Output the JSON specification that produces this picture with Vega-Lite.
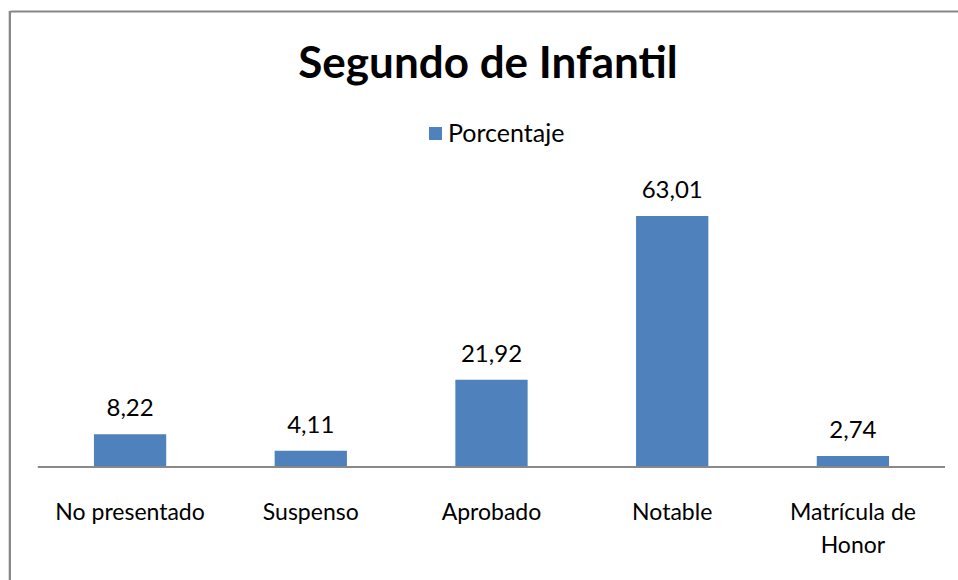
{
  "$schema": "https://vega.github.io/schema/vega-lite/v6.json",
  "width": 948,
  "height": 456,
  "autosize": {"type": "none"},
  "padding": {"left": 10, "top": 11, "right": 0, "bottom": 113},
  "background": "white",
  "config": {
    "view": {"stroke": null},
    "font": "Lato",
    "locale": {"number": {"decimal": ",", "thousands": ".", "grouping": [3], "currency": ["", " €"]}}
  },
  "title": {
    "text": "Segundo de Infantil",
    "font": "Lato",
    "fontSize": 44,
    "fontWeight": "bold",
    "color": "#000000",
    "anchor": "middle",
    "frame": "group",
    "baseline": "alphabetic",
    "offset": -112,
    "dx": 4
  },
  "data": {
    "values": [
      {"categoria": "No presentado", "porcentaje": 8.22},
      {"categoria": "Suspenso", "porcentaje": 4.11},
      {"categoria": "Aprobado", "porcentaje": 21.92},
      {"categoria": "Notable", "porcentaje": 63.01},
      {"categoria": "Matrícula de Honor", "porcentaje": 2.74}
    ]
  },
  "resolve": {"axis": {"x": "independent"}},
  "layer": [
    {
      "mark": {"type": "bar"},
      "encoding": {
        "x": {
          "field": "categoria",
          "type": "nominal",
          "sort": null,
          "scale": {"paddingInner": 0.6, "paddingOuter": 0.423, "align": 0.549},
          "axis": {
            "orient": "bottom",
            "domain": false,
            "ticks": false,
            "tickSize": 0,
            "title": null,
            "labelAngle": 0,
            "labelFont": "Lato",
            "labelFontSize": 23,
            "labelColor": "#000000",
            "labelBaseline": "alphabetic",
            "labelPadding": 52,
            "labelLineHeight": 33,
            "labelExpr": "datum.value == 'Matrícula de Honor' ? ['Matrícula de', 'Honor'] : datum.value"
          }
        },
        "y": {
          "field": "porcentaje",
          "type": "quantitative",
          "scale": {"domain": [0, 114.47], "nice": false, "zero": false},
          "axis": null
        },
        "color": {
          "datum": "Porcentaje",
          "type": "nominal",
          "scale": {"range": ["#4F81BD"]},
          "legend": {
            "title": null,
            "orient": "none",
            "legendX": 413,
            "legendY": 110,
            "direction": "horizontal",
            "symbolType": "square",
            "symbolSize": 169,
            "symbolStrokeWidth": 0,
            "symbolOpacity": 1,
            "labelFont": "Lato",
            "labelFontSize": 25,
            "labelColor": "#000000",
            "labelOffset": 0,
            "padding": 0
          }
        }
      }
    },
    {
      "mark": {"type": "rule", "color": "#868686", "strokeWidth": 1},
      "encoding": {
        "x": {
          "datum": "No presentado",
          "type": "nominal",
          "bandPosition": -0.775,
          "axis": {
            "orient": "top",
            "domain": true,
            "domainColor": "#878787",
            "domainWidth": 2,
            "labels": false,
            "ticks": false,
            "title": null
          }
        },
        "x2": {"datum": "Matrícula de Honor", "bandPosition": 1.774},
        "y": {"datum": 0, "type": "quantitative"}
      }
    },
    {
      "mark": {"type": "rule", "color": "#878787", "strokeWidth": 2},
      "encoding": {
        "x": {"datum": "No presentado", "type": "nominal", "bandPosition": -1.162, "axis": null},
        "y": {"datum": 114.47, "type": "quantitative"},
        "y2": {"datum": -28.37}
      }
    },
    {
      "mark": {"type": "text", "baseline": "alphabetic", "dy": -18, "font": "Lato", "fontSize": 24, "color": "#000000"},
      "encoding": {
        "x": {"field": "categoria", "type": "nominal", "sort": null, "axis": null},
        "y": {"field": "porcentaje", "type": "quantitative"},
        "text": {"field": "porcentaje", "type": "quantitative", "format": ".2f"}
      }
    }
  ]
}
